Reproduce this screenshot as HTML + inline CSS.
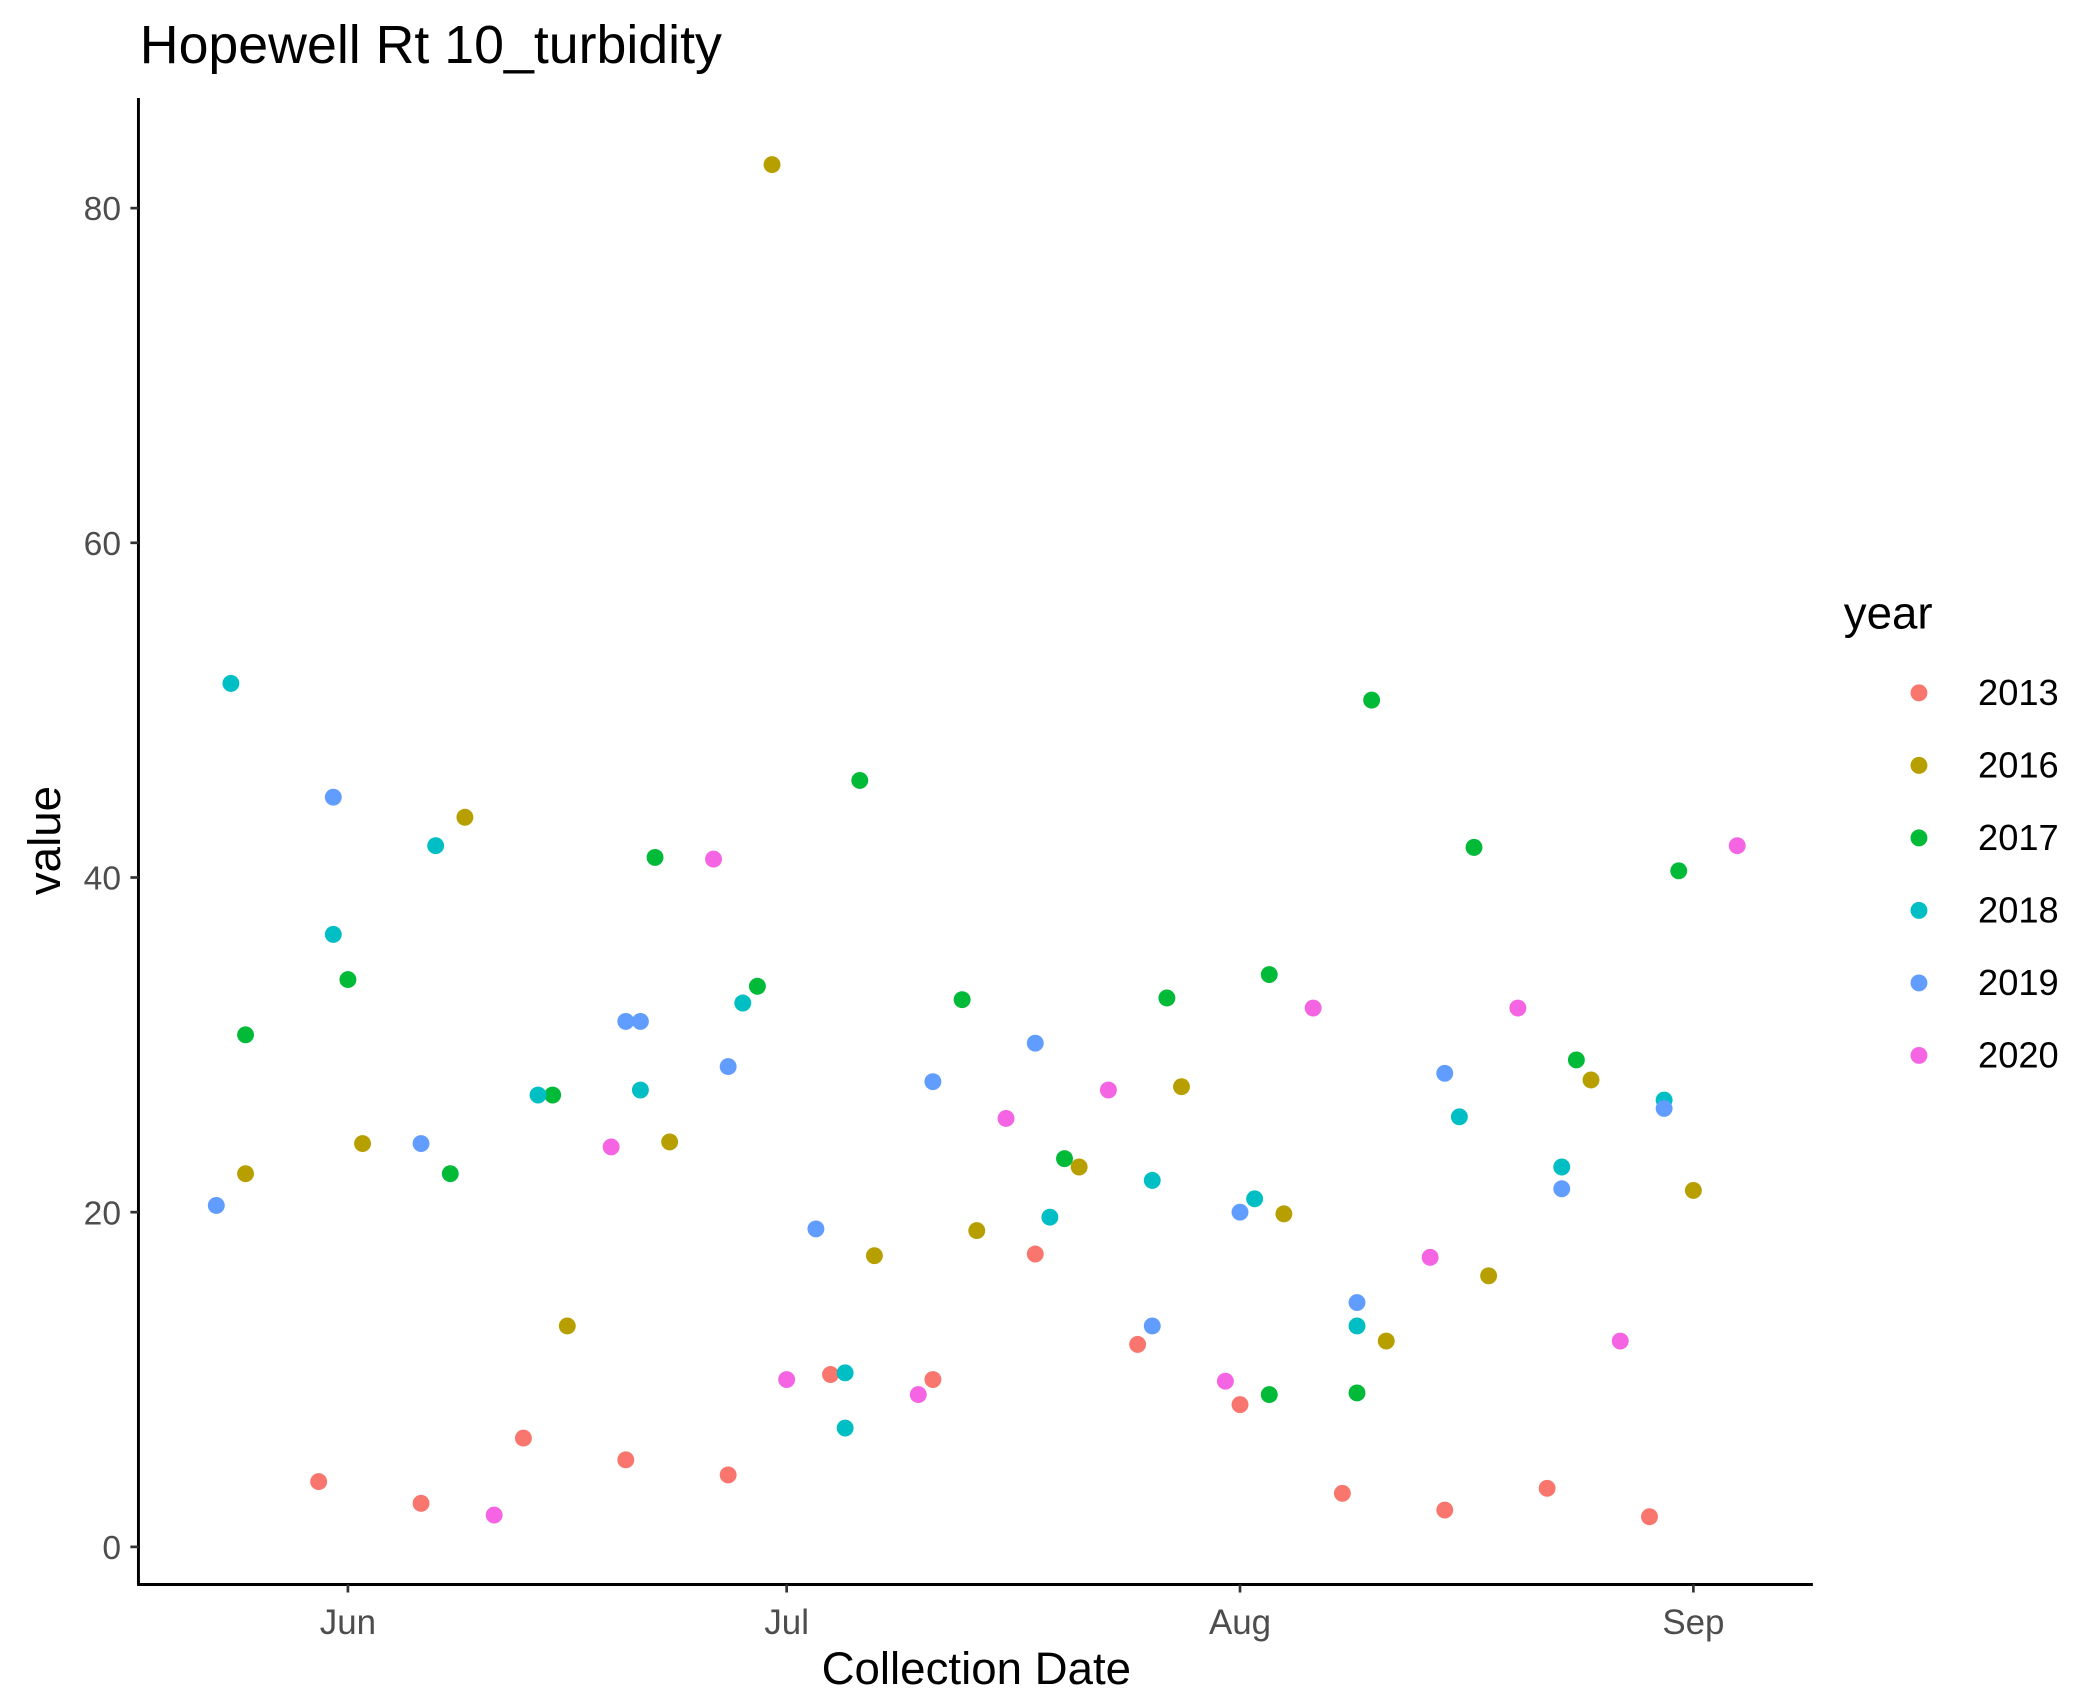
<!DOCTYPE html>
<html><head><meta charset="utf-8"><style>html,body{margin:0;padding:0;background:#fff}svg{display:block}text{font-family:"Liberation Sans",Arial,sans-serif}</style></head>
<body>
<svg id="chart" width="2095" height="1708" viewBox="0 0 1560 1272" xmlns="http://www.w3.org/2000/svg">
<rect width="1560" height="1272" fill="#fff"/>
<text x="104" y="47" font-size="40" fill="#000">Hopewell Rt 10_turbidity</text>
<g id="marks"></g>
<g id="axes"></g>
<text x="727" y="1254" font-size="34" text-anchor="middle" fill="#000">Collection Date</text>
<text transform="translate(33,626) rotate(-90)" font-size="34" text-anchor="middle" dominant-baseline="central" fill="#000">value</text>
<g id="legend"></g>
</svg>
<script>
// days since Jun 1 and values per year
const years = ["2013","2016","2017","2018","2019","2020"];
const colors = ["#F8766D","#B79F00","#00BA38","#00BFC4","#619CFF","#F564E3"];
const days2013 = [-2,5,12,19,26,33,40,47,54,61,68,75,82,89];
const vals2013 = [3.9,2.6,6.5,5.2,4.3,10.3,10.0,17.5,12.1,8.5,3.2,2.2,3.5,1.8];
const days2016 = [-7,1,8,15,22,29,36,43,50,57,64,71,78,85,92];
const vals2016 = [22.3,24.1,43.6,13.2,24.2,82.6,17.4,18.9,22.7,27.5,19.9,12.3,16.2,27.9,21.3];
const days2017 = [-7,0,7,14,21,28,35,42,49,56,63,63,70,69,77,84,91];
const vals2017 = [30.6,33.9,22.3,27.0,41.2,33.5,45.8,32.7,23.2,32.8,34.2,9.1,50.6,9.2,41.8,29.1,40.4];
const days2018 = [-8,-1,6,13,20,27,34,34,48,55,62,69,76,83,90];
const vals2018 = [51.6,36.6,41.9,27.0,27.3,32.5,10.4,7.1,19.7,21.9,20.8,13.2,25.7,22.7,26.7];
const days2019 = [-9,-1,5,19,20,26,32,40,47,55,61,69,75,83,90];
const vals2019 = [20.4,44.8,24.1,31.4,31.4,28.7,19.0,27.8,30.1,13.2,20.0,14.6,28.3,21.4,26.2];
const days2020 = [10,18,25,30,39,45,52,60,66,74,80,87,95];
const vals2020 = [1.9,23.9,41.1,10.0,9.1,25.6,27.3,9.9,32.2,17.3,32.2,12.3,41.9];
const yTicks = [0,20,40,60,80];
const xTickDays = [0,30,61,92];
const xTickLabels = ["Jun","Jul","Aug","Sep"];

const NS="http://www.w3.org/2000/svg";
const X0=103,X1=1350,Y0=1180,Y1=73;
const xs=d=>259+d*(1261-259)/92;
const ys=v=>1152-v*(1152-155)/80;
function mk(tag,attrs,parent){const e=document.createElementNS(NS,tag);for(const k in attrs)e.setAttribute(k,attrs[k]);parent.appendChild(e);return e;}
const marks=document.getElementById('marks');
const series=[[days2013,vals2013],[days2016,vals2016],[days2017,vals2017],[days2018,vals2018],[days2019,vals2019],[days2020,vals2020]];
series.forEach((s,i)=>{s[0].forEach((d,j)=>{
  const c=mk('circle',{cx:xs(d),cy:ys(s[1][j]),r:6.3,fill:colors[i]},marks);
  
  
});});
const ax=document.getElementById('axes');
const yl=mk('line',{x1:X0,y1:Y0,x2:X0,y2:Y1,stroke:'#000','stroke-width':2.2},ax);


const xl=mk('line',{x1:X0-1,y1:Y0,x2:X1,y2:Y0,stroke:'#000','stroke-width':2.2},ax);


yTicks.forEach(v=>{
  mk('line',{x1:X0-6,y1:ys(v),x2:X0,y2:ys(v),stroke:'#333','stroke-width':2},ax);
  const t=mk('text',{x:X0-13,y:ys(v)+9,'font-size':25,'text-anchor':'end',fill:'#4d4d4d'},ax);
  t.textContent=v;
  
  
});
xTickDays.forEach((d,i)=>{
  mk('line',{x1:xs(d),y1:Y0,x2:xs(d),y2:Y0+6,stroke:'#333','stroke-width':2},ax);
  const t=mk('text',{x:xs(d),y:1217,'font-size':26,'text-anchor':'middle',fill:'#4d4d4d'},ax);
  t.textContent=xTickLabels[i];
  
  
});
const lg=document.getElementById('legend');
const lt=mk('text',{x:1373,y:468,'font-size':34,fill:'#000'},lg);
lt.textContent='year';


years.forEach((y,i)=>{
  const cy=516+i*54;
  const c=mk('circle',{cx:1429,cy:cy,r:6.3,fill:colors[i]},lg);
  
  
  const t=mk('text',{x:1473,y:cy+9,'font-size':27,fill:'#000'},lg);
  t.textContent=y;
  
  
});
</script>
</body></html>
